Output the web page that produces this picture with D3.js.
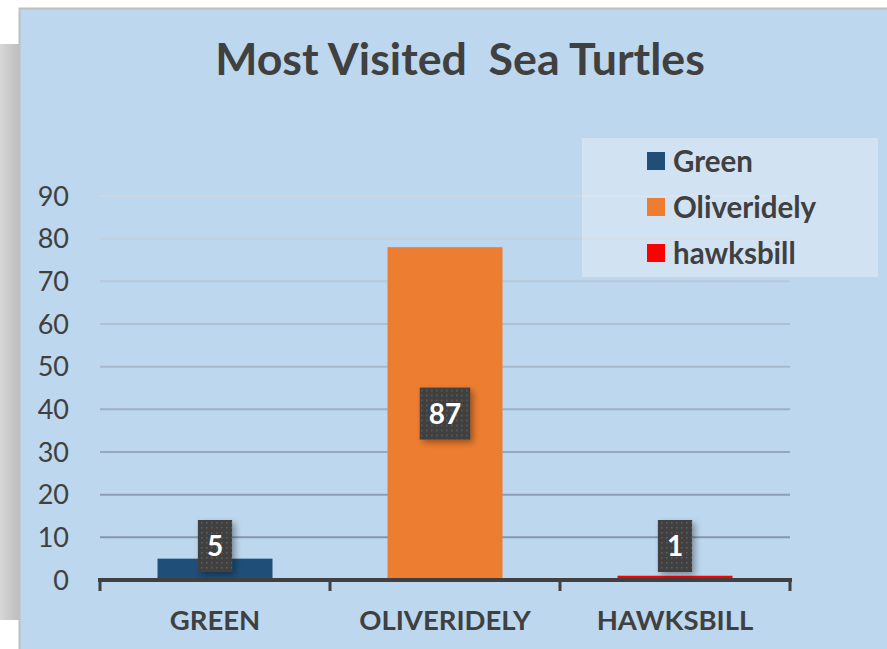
<!DOCTYPE html>
<html>
<head>
<meta charset="utf-8">
<script src="https://cdn.jsdelivr.net/npm/d3@7"></script>
<style>
  body { margin: 0; background: #fff; }
  svg { display: block; font-family: Lato, "Open Sans", sans-serif; }
</style>
</head>
<body>
<svg id="chart" width="887" height="649"></svg>
<script>
// values (bar heights) and the printed data labels
const categories = ["GREEN", "OLIVERIDELY", "HAWKSBILL"];
const seriesNames = ["Green", "Oliveridely", "hawksbill"];
const barValues = [5, 78, 1];
const labelTexts = ["5", "87", "1"];
const yTicks = [0, 10, 20, 30, 40, 50, 60, 70, 80, 90];
const COLORS = ["#1f4e79", "#ed7d31", "#ff0000"];

const svg = d3.select("#chart");
const W = 887, H = 649;
const TEXT = "#404040";

const defs = svg.append("defs");
const side = defs.append("linearGradient").attr("id", "side").attr("x1", 0).attr("x2", 1);
side.append("stop").attr("offset", 0).attr("stop-color", "#d6d6d6");
side.append("stop").attr("offset", 1).attr("stop-color", "#bdbdbd");

const pat = defs.append("pattern").attr("id", "dots").attr("width", 5).attr("height", 5)
    .attr("patternUnits", "userSpaceOnUse");
pat.append("rect").attr("width", 5).attr("height", 5).attr("fill", "#404040");
pat.append("rect").attr("x", 1).attr("y", 1).attr("width", 1.6).attr("height", 1.6).attr("fill", "#5c5c5c");

const shadow = defs.append("filter").attr("id", "shadow").attr("x", "-50%").attr("y", "-50%")
    .attr("width", "200%").attr("height", "200%");
shadow.append("feDropShadow").attr("dx", 3).attr("dy", 3).attr("stdDeviation", 3)
    .attr("flood-color", "#000").attr("flood-opacity", 0.35);

// grey panel on the left, then the chart frame
svg.append("rect").attr("x", 0).attr("y", 44).attr("width", 20).attr("height", 576).attr("fill", "url(#side)");
svg.append("rect").attr("x", 19.5).attr("y", 8.5).attr("width", W).attr("height", H)
    .attr("fill", "#bdd7ee").attr("stroke", "#bfbfbf").attr("stroke-width", 2);

// title
svg.append("text").attr("x", 460).attr("y", 75).attr("text-anchor", "middle")
    .attr("font-size", 44.7).attr("font-weight", 700).attr("fill", TEXT)
    .attr("xml:space", "preserve").text("Most Visited  Sea Turtles");

// scales
const x = d3.scaleBand().domain(categories).range([100, 790]).paddingInner(0).paddingOuter(0);
const y = d3.scaleLinear().domain([0, 90]).range([580, 196]);
const gridColor = d3.scaleLinear().domain([90, 10]).range(["#cbd9e7", "#8696ad"]);

// gridlines
svg.append("g").selectAll("line").data(yTicks.filter(d => d > 0)).join("line")
    .attr("x1", 100).attr("x2", 790)
    .attr("y1", d => y(d)).attr("y2", d => y(d))
    .attr("stroke", d => gridColor(d)).attr("stroke-width", 2);

// y labels
svg.append("g").selectAll("text").data(yTicks).join("text")
    .attr("x", 69).attr("y", d => y(d)).attr("dy", "0.36em")
    .attr("text-anchor", "end").attr("font-size", 27).attr("fill", TEXT)
    .text(d => d);

// bars
const barW = x.bandwidth() / 2;
svg.append("g").selectAll("rect").data(barValues).join("rect")
    .attr("x", (d, i) => x(categories[i]) + x.bandwidth() / 2 - barW / 2)
    .attr("width", barW)
    .attr("y", d => y(d))
    .attr("height", d => y(0) - y(d))
    .attr("fill", (d, i) => COLORS[i]);

// x axis line with category boundary ticks
const ax = svg.append("g").attr("fill", "none").attr("stroke", TEXT).attr("stroke-width", 4);
ax.append("line").attr("x1", 98).attr("x2", 792).attr("y1", y(0)).attr("y2", y(0));
const bounds = categories.map(c => x(c)).concat([x.range()[1]]);
ax.selectAll(".tk").data(bounds).join("line").attr("class", "tk")
    .attr("x1", d => d).attr("x2", d => d).attr("y1", y(0)).attr("y2", y(0) + 11)
    .attr("stroke-width", 3);

// x labels
svg.append("g").selectAll("text").data(categories).join("text")
    .attr("x", d => x(d) + x.bandwidth() / 2).attr("y", 630)
    .attr("text-anchor", "middle").attr("font-size", 27.5).attr("font-weight", 700).attr("fill", TEXT)
    .text(d => d);

// data labels
const lbl = svg.append("g").selectAll("g").data(barValues).join("g")
    .attr("transform", (d, i) => {
        const cx = x(categories[i]) + x.bandwidth() / 2;
        const cy = Math.min((y(d) + y(0)) / 2, y(0) - 34);
        return `translate(${cx},${cy})`;
    });
lbl.each(function (d, i) {
    const g = d3.select(this);
    const t = g.append("text").attr("text-anchor", "middle").attr("dy", "0.36em")
        .attr("font-size", 28).attr("font-weight", 700).attr("fill", "#fff").text(labelTexts[i]);
    const w = t.node().getComputedTextLength() + 18;
    g.insert("rect", "text").attr("x", -w / 2).attr("y", -26).attr("width", w).attr("height", 52)
        .attr("fill", "url(#dots)").attr("filter", "url(#shadow)");
});

// legend
const legend = svg.append("g");
legend.append("rect").attr("x", 582).attr("y", 138).attr("width", 296).attr("height", 139)
    .attr("fill", "#ffffff").attr("fill-opacity", 0.3);
const items = legend.selectAll("g").data(seriesNames).join("g")
    .attr("transform", (d, i) => `translate(647,${161 + i * 46})`);
items.append("rect").attr("x", 0).attr("y", -9).attr("width", 18).attr("height", 18)
    .attr("fill", (d, i) => COLORS[i]);
items.append("text").attr("x", 26).attr("dy", "0.36em")
    .attr("font-size", 29.5).attr("font-weight", 700).attr("fill", TEXT).text(d => d);
</script>
</body>
</html>
